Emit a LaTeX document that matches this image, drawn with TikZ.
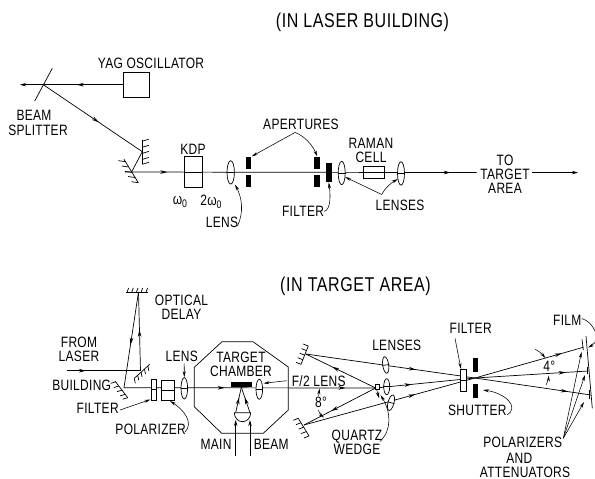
\documentclass[tikz,border=0pt]{standalone}
\usepackage{fontspec}
\setmainfont[FakeStretch=0.8,LetterSpace=2]{Liberation Sans}
\newfontfamily\ttlfont[FakeStretch=0.8,LetterSpace=3]{Liberation Sans}
\usetikzlibrary{arrows.meta,decorations.markings,shapes.geometric,calc}
\tikzset{
  x=1pt,y=-1pt,
  every path/.style={line width=.7pt},
  lab/.style={inner sep=0pt,align=center,font=\fontsize{15}{14}\selectfont},
  ttl/.style={inner sep=0pt,font=\ttlfont\fontsize{20}{20}\selectfont},
  bx/.style 2 args={draw,inner sep=0pt,minimum width=#1pt,minimum height=#2pt},
  blk/.style 2 args={fill=black,inner sep=0pt,minimum width=#1pt,minimum height=#2pt},
  lens/.style 2 args={draw,ellipse,inner sep=0pt,minimum width=#1pt,minimum height=#2pt},
  tip/.style={-{Stealth[length=6pt,width=3.4pt]}},
  leader/.style={line width=.55pt,-{Stealth[length=6pt,width=3pt]}},
  ma/.style={postaction={decorate},decoration={markings,mark=at position #1 with {\arrow{Stealth[length=7pt,width=3.6pt]}}}},
  mb/.style 2 args={postaction={decorate},decoration={markings,mark=at position #1 with {\arrow{Stealth[length=7pt,width=3.6pt]}},mark=at position #2 with {\arrow{Stealth[length=7pt,width=3.6pt]}}}},
}
\newcommand{\hatched}[5]{% name a, name b, dx, dy, list
  \draw (#1) -- (#2);
  \foreach \t in {#5} \draw ($(#1)!\t!(#2)$) -- ++(#3,#4);
}
\begin{document}
\begin{tikzpicture}
\useasboundingbox (0,0) rectangle (595,479);
% ---------- top ----------
\node[ttl] (t1) at (362.5,22) {(IN LASER BUILDING)};
\node[lab] (yaglab) at (151,63) {YAG OSCILLATOR};
\node[bx={26}{25}] (yag) at (136.3,85.3) {};
\coordinate (spl) at (43.3,84.7);
\coordinate (splA) at (52.3,68.3);
\coordinate (splB) at (34.7,101);
\coordinate (beamend) at (20,84.7);
\draw (splA) -- (splB);
\draw[ma=.58] (yag.west |- spl) -- (spl);
\draw[tip] (spl) -- (beamend);
\node[lab] (beamlab) at (34,115) {BEAM};
\node[lab] (spllab) at (38,130.7) {SPLITTER};
\coordinate (m1) at (142.3,151.7);
\coordinate (m1a) at (142.3,140);
\coordinate (m1b) at (142.3,164.3);
\coordinate (m2) at (131.7,171.7);
\coordinate (m2a) at (124,159.3);
\coordinate (m2b) at (138.3,182.7);
\draw[ma=.56] (spl) -- (m1);
\draw (m1) -- (m2);
\hatched{m1a}{m1b}{6.5}{-2}{0.05,0.3,0.55,0.8,1}
\hatched{m2a}{m2b}{-7}{-1}{0.1,0.33,0.56,0.78,1}
\coordinate (b0) at (125,172);
\coordinate (toT) at (477,172.6);
\coordinate (toTb) at (532,172.6);
\coordinate (toTe) at (578,172.6);
\draw[mb={.12}{.925}] (b0) -- (toT);
\draw[tip] (toTb) -- (toTe);
\node[bx={18.3}{30.6},fill=white] (kdp) at (193.1,172) {};
\draw (kdp.west) -- (kdp.east);
\node[lab] (kdplab) at (193,149.5) {KDP};
\node[lab] (w0) at (180,202) {ω\raisebox{-2.5pt}{\fontsize{11}{11}\selectfont 0}};
\node[lab] (w2) at (211,202) {2ω\raisebox{-2.5pt}{\fontsize{11}{11}\selectfont 0}};
\node[lens={7.4}{23.4},fill=white] (l1) at (230.7,172.4) {};
\draw (l1.west) -- (l1.east);
\node[blk={5.4}{12}] (ap1a) at (248.7,162.7) {};
\node[blk={5.4}{12}] (ap1b) at (248.7,181.3) {};
\node[blk={5.7}{12}] (ap2a) at (317.2,162.7) {};
\node[blk={5.7}{12}] (ap2b) at (317.2,181.3) {};
\node[blk={6}{19.3}] (fil1) at (328.7,172.4) {};
\node[lens={7}{23.4},fill=white] (l2) at (341.7,173) {};
\draw (l2.west) -- (l2.east);
\node[bx={21}{11.6},fill=white] (raman) at (373.5,172.5) {};
\draw (raman.west) -- (raman.east);
\node[lens={7}{23.4},fill=white] (l3) at (401,173.4) {};
\draw (l3.west) -- (l3.east);
\node[lab] (aplab) at (301,124) {APERTURES};
\coordinate (apk) at (295,132.5);
\draw[leader] (apk) -- (ap1a.north east);
\draw[leader] (apk) .. controls (305,136) and (313,146) .. (ap2a.north);
\node[lab] (lenslab) at (222,222.3) {LENS};
\draw[leader] (237.5,226) .. controls (244,212) and (242,198) .. (235,184.5);
\node[lab] (filab) at (303,211.3) {FILTER};
\draw[leader] (filab.east) .. controls (330,210) and (331,198) .. (fil1.south);
\node[lab] (ramanlab) at (371,150.5) {RAMAN\\CELL};
\node[lab] (lenseslab) at (400,205.7) {LENSES};
\coordinate (lk) at (381.7,194.5);
\draw[leader] (lk) -- (345,177);
\draw[leader] (lk) .. controls (385,188) and (391,183) .. (397.8,179);
\node[lab] (tolab) at (505,174) {TO\\TARGET\\AREA};
% ---------- bottom ----------
\node[ttl] (t2) at (355.5,286) {(IN TARGET AREA)};
\coordinate (d1) at (126,292);
\coordinate (d2) at (148.3,292);
\coordinate (dm) at (138.5,292);
\hatched{d1}{d2}{1.5}{-4}{0.05,0.26,0.47,0.68,0.9}
\coordinate (mb1) at (134.3,378.3);
\coordinate (mb2) at (149.7,364.3);
\coordinate (mbc) at (140.5,370.7);
\hatched{mb1}{mb2}{1}{5}{0,0.22,0.44,0.66,0.88}
\coordinate (mc1) at (115,381);
\coordinate (mc2) at (127.7,397.7);
\coordinate (mcc) at (124,387.7);
\hatched{mc1}{mc2}{-5}{1.5}{0.05,0.3,0.55,0.8,1}
\coordinate (from) at (66.7,370.7);
\draw[ma=.26] (from) -- (mbc);
\draw[ma=.52] (mbc) -- (dm);
\draw[ma=.55] (dm) -- (mcc);
\node[lab] (optlab) at (181.5,307) {OPTICAL\\DELAY};
\node[lab] (fromlab) at (79,349) {FROM\\LASER};
\node[lab] (buildlab) at (81.7,385) {BUILDING};
\coordinate (wedge) at (375.7,388);
\draw[mb={.4}{.88}] (mcc) -- (wedge);
\node[bx={5}{21},fill=white] (fil2) at (154.2,389.8) {};
\draw (fil2.west) -- (fil2.east);
\node[bx={13}{20.3},fill=white] (pol) at (167.5,390.1) {};
\draw (pol.west) -- (pol.east);
\node[lens={6.6}{21.4},fill=white] (l4) at (184.3,388.3) {};
\draw (l4.west) -- (l4.east);
\node[lab] (lens2lab) at (181.7,356.7) {LENS};
\draw[leader] (184.2,363.3) -- (l4.north);
\node[lab] (fil2lab) at (97.7,408.3) {FILTER};
\draw[leader] (120,410) -- (150.5,399.5);
\node[lab] (pollab) at (150.7,429.3) {POLARIZER};
\draw[leader] (185,432) .. controls (194,423) and (184,410) .. (170,401);
\draw (194.3,367.3) -- (194.3,406.7) -- (221.7,433.3) -- (263.3,433.3) -- (288.3,410) -- (288.3,367) -- (253,341.7) -- (222,341.7) -- cycle;
\node[lab] (tclab) at (241,364) {TARGET\\CHAMBER};
\node[blk={20.7}{5.3}] (tgt) at (241.3,384.3) {};
\node[lens={6.6}{20},fill=white] (l5) at (259.3,389.3) {};
\draw (l5.west) -- (l5.east);
\node[lab] (f2lab) at (318.7,381) {F/2 LENS};
\draw[leader] (286.7,380.7) -- (263.5,383.3);
% main beam
\coordinate (h1) at (234.3,412.7);
\coordinate (h2) at (250.7,412.7);
\draw (h1) -- (h2) arc[start angle=0,end angle=180,x radius=8.2,y radius=9];
\draw[tip] (235.7,455.7) -- (235.7,420);
\draw[tip] (250,455.7) -- (250,420);
\draw[ma=.6] (235.7,412.7) -- (tgt.south);
\draw[ma=.6] (250,412.7) -- (tgt.south);
\node[lab] (mainlab) at (216,444.3) {MAIN};
\node[lab] (beamlab2) at (271.3,444.3) {BEAM};
% right mirrors
\coordinate (r1a) at (308.3,346);
\coordinate (r1b) at (301,364.3);
\coordinate (r1) at (305.7,354);
\coordinate (r2a) at (298.3,418.3);
\coordinate (r2b) at (309,436);
\coordinate (r2) at (304,425);
\hatched{r1a}{r1b}{-5}{-2}{0,0.25,0.5,0.75,1}
\hatched{r2a}{r2b}{-5}{2}{0,0.25,0.5,0.75,1}
\coordinate (x) at (475,378);
\coordinate (e1) at (583.3,347.3);
\coordinate (e2) at (588.3,371);
\coordinate (e3) at (591,395);
\draw[ma=.62] (wedge) -- (r1);
\draw[ma=.62] (wedge) -- (r2);
\draw[ma=.65] (r1) -- (x);
\draw[ma=.65] (r2) -- (x);
\draw[ma=.36] (wedge) -- (x);
\draw[ma=.8] (x) -- (e1);
\draw[ma=.8] (x) -- (e2);
\draw[ma=.8] (x) -- (e3);
\node[bx={4.6}{5},fill=white] (wbox) at (377.5,386.6) {};
\draw[tip,line width=.5pt] (376.5,389) -- (379,398);
\node[lens={6}{16.6},rotate=8,fill=white] (l6) at (385.7,365) {};
\node[lens={6}{16},fill=white] (l7) at (386.7,386.7) {};
\node[lens={6}{16},rotate=-15,fill=white] (l8) at (391,402.7) {};
\draw (l6.east) -- (l6.west);
\draw (l7.east) -- (l7.west);
\draw (l8.east) -- (l8.west);
\node[lab] (8lab) at (321,402.7) {8°};
\draw[leader,line width=.5pt] (318.6,396) -- (319.5,388.5);
\draw[leader,line width=.5pt] (318.3,410) .. controls (319,413) and (321,415) .. (324,417.5);
\node[lab] (lens3lab) at (396.7,345) {LENSES};
\node[lab] (qlab) at (357,442.5) {QUARTZ\\WEDGE};
\draw[leader] (380,441.5) .. controls (392,430) and (391,412) .. (380.5,395);
\node[bx={6}{22.4},fill=white] (fil3) at (463.7,380.5) {};
\draw (fil3.west) -- (fil3.east);
\node[blk={5.6}{14}] (sh1) at (475.5,364.7) {};
\node[blk={5.6}{14}] (sh2) at (475.5,391.3) {};
\node[lab] (fil3lab) at (470.7,328.3) {FILTER};
\draw[leader] (455,338.3) -- (461,369);
\node[lab] (shlab) at (477.3,410.7) {SHUTTER};
\draw[leader] (507,415) .. controls (520,407) and (505,393) .. (483,390);
\coordinate (fa) at (586,336);
\coordinate (fb) at (592.3,408.3);
\draw (fa) -- (fb);
\draw (582,339.3) -- (583.3,350);
\draw (587.3,366.7) -- (587.3,374.3);
\draw (589.3,390) -- (589.3,399.3);
\node[lab] (filmlab) at (567.3,320) {FILM};
\draw[leader] (581.7,318.5) .. controls (594,322) and (602,340) .. (588,347.5);
\node[lab] (4lab) at (549.3,366.7) {4°};
\draw[leader,line width=.5pt] (535,349.3) .. controls (539,351) and (542,354) .. (545.5,358);
\draw[leader,line width=.5pt] (546,385) .. controls (547.5,382) and (548.5,379) .. (548.8,375.5);
\node[lab] (plab) at (522.7,442.7) {POLARIZERS};
\node[lab] (andlab) at (519.3,458.3) {AND};
\node[lab] (atlab) at (525,472) {ATTENUATORS};
\coordinate (pk) at (563.3,438.3);
\draw[leader] (pk) -- (581.5,352);
\draw[leader] (pk) -- (585,375);
\draw[leader] (pk) -- (584,402);
\end{tikzpicture}
\end{document}
